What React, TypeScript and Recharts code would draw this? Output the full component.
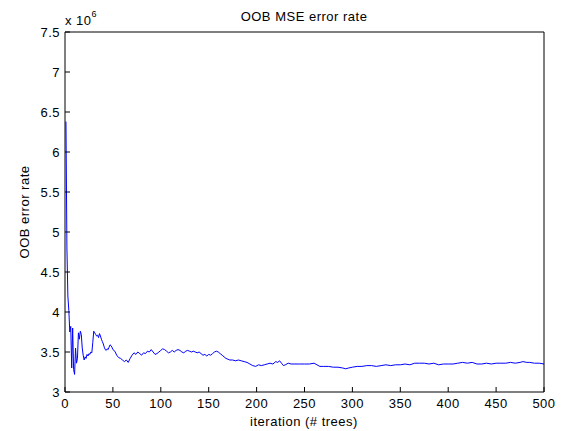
import React from 'react';
import { LineChart, Line, XAxis, YAxis } from 'recharts';

// number of trees at each sample
const trees = [
  1, 2, 3, 4, 5, 6, 7, 8, 9, 10, 11, 12, 13, 14, 15, 16, 17, 18, 19, 20,
  21, 22, 23, 24, 25, 26, 27, 28, 29, 30, 31, 32, 33, 34, 35, 36, 37, 38, 39, 40,
  41, 42, 43, 44, 45, 46, 47, 48, 49, 50, 52, 54, 56, 58, 60, 62, 64, 66, 68, 70,
  72, 74, 76, 78, 80, 82, 84, 86, 88, 90, 92, 94, 96, 98, 100, 102, 104, 106, 108, 110,
  112, 114, 116, 118, 120, 122, 124, 126, 128, 130, 132, 134, 136, 138, 140, 142, 144, 146, 148, 150,
  152, 154, 156, 158, 160, 162, 164, 166, 168, 170, 172, 175, 178, 181, 184, 187, 190, 193, 196, 199,
  202, 205, 208, 211, 214, 217, 220, 222, 224, 226, 228, 230, 233, 236, 240, 245, 250, 255, 260, 263,
  266, 270, 275, 280, 285, 290, 293, 296, 300, 305, 310, 315, 320, 325, 330, 335, 340, 345, 350, 355,
  360, 365, 370, 375, 380, 385, 390, 395, 400, 405, 410, 415, 420, 425, 430, 435, 440, 445, 450, 455,
  460, 465, 470, 475, 478, 482, 485, 490, 495, 500,
];

// OOB MSE, in units of 10^6
const oobError = [
  6.38, 4.80, 4.20, 4.02, 3.75, 3.82, 3.30, 3.80, 3.28, 3.22, 3.55, 3.36, 3.42, 3.74, 3.66, 3.76, 3.72, 3.55, 3.46, 3.40,
  3.44, 3.42, 3.47, 3.45, 3.48, 3.47, 3.50, 3.49, 3.62, 3.76, 3.74, 3.72, 3.70, 3.71, 3.68, 3.73, 3.70, 3.66, 3.63, 3.60,
  3.56, 3.53, 3.52, 3.54, 3.53, 3.56, 3.59, 3.58, 3.56, 3.53, 3.51, 3.46, 3.43, 3.42, 3.40, 3.38, 3.40, 3.37, 3.42, 3.46,
  3.49, 3.47, 3.50, 3.48, 3.46, 3.49, 3.48, 3.51, 3.50, 3.53, 3.50, 3.47, 3.48, 3.50, 3.52, 3.54, 3.53, 3.51, 3.49, 3.50,
  3.52, 3.50, 3.52, 3.53, 3.52, 3.50, 3.49, 3.51, 3.52, 3.51, 3.50, 3.51, 3.50, 3.49, 3.50, 3.48, 3.46, 3.47, 3.45, 3.47,
  3.46, 3.48, 3.50, 3.51, 3.50, 3.48, 3.46, 3.44, 3.42, 3.41, 3.40, 3.40, 3.39, 3.40, 3.39, 3.38, 3.37, 3.35, 3.33, 3.32,
  3.34, 3.33, 3.34, 3.35, 3.36, 3.35, 3.38, 3.37, 3.39, 3.36, 3.33, 3.34, 3.36, 3.35, 3.35, 3.35, 3.35, 3.35, 3.36, 3.34,
  3.32, 3.32, 3.32, 3.31, 3.31, 3.30, 3.29, 3.30, 3.31, 3.32, 3.32, 3.33, 3.33, 3.32, 3.33, 3.34, 3.33, 3.34, 3.34, 3.35,
  3.34, 3.36, 3.36, 3.36, 3.35, 3.36, 3.34, 3.35, 3.35, 3.35, 3.36, 3.37, 3.36, 3.37, 3.35, 3.35, 3.36, 3.35, 3.36, 3.36,
  3.36, 3.37, 3.36, 3.37, 3.38, 3.37, 3.37, 3.36, 3.36, 3.35,
];

const xTicks = [0, 50, 100, 150, 200, 250, 300, 350, 400, 450, 500];
const yTicks = [3, 3.5, 4, 4.5, 5, 5.5, 6, 6.5, 7, 7.5];

const data = trees.map((t, i) => ({ trees: t, err: oobError[i] }));

const FONT = '"Liberation Sans", Arial, sans-serif';
const tickStyle = { fill: '#000', fontSize: 13, fontFamily: FONT, letterSpacing: 0.5 };
const labelStyle = { fontFamily: FONT, fontSize: 13, letterSpacing: 0.5, fill: '#000' };

const App: React.FC = () => {
  return (
    <div style={{ position: 'absolute', left: 0, top: 0, width: 561, height: 431, background: '#fff' }}>
      <LineChart
        width={561}
        height={431}
        data={data}
        margin={{ top: 31, right: 16, bottom: 0, left: 0 }}
      >
        <XAxis
          xAxisId="main"
          dataKey="trees"
          type="number"
          domain={[0, 500]}
          ticks={xTicks}
          allowDataOverflow
          height={39}
          tickSize={-5}
          tickMargin={12}
          tick={tickStyle}
          stroke="#000"
          interval={0}
        />
        <XAxis
          xAxisId="top"
          orientation="top"
          dataKey="trees"
          type="number"
          domain={[0, 500]}
          ticks={xTicks}
          allowDataOverflow
          height={1}
          tickSize={-5}
          tick={false}
          stroke="#000"
          interval={0}
        />
        <YAxis
          yAxisId="main"
          type="number"
          domain={[3, 7.5]}
          ticks={yTicks}
          allowDataOverflow
          width={65}
          tickSize={-5}
          tickMargin={10}
          tick={tickStyle}
          stroke="#000"
          interval={0}
        />
        <YAxis
          yAxisId="right"
          orientation="right"
          type="number"
          domain={[3, 7.5]}
          ticks={yTicks}
          allowDataOverflow
          width={1}
          tickSize={-5}
          tick={false}
          stroke="#000"
          interval={0}
        />
        <Line
          xAxisId="main"
          yAxisId="main"
          type="linear"
          dataKey="err"
          stroke="#0000ff"
          strokeWidth={1}
          dot={false}
          activeDot={false}
          isAnimationActive={false}
        />
        <text x={304} y={21} textAnchor="middle" style={labelStyle}>
          OOB MSE error rate
        </text>
        <text x={304} y={426} textAnchor="middle" style={labelStyle}>
          iteration (# trees)
        </text>
        <text x={29} y={212} textAnchor="middle" transform="rotate(-90 29 212)" style={labelStyle}>
          OOB error rate
        </text>
        <text x={65} y={25} style={labelStyle}>
          x 10
          <tspan dy={-8} fontSize={9}>6</tspan>
        </text>
      </LineChart>
    </div>
  );
};

export default App;
